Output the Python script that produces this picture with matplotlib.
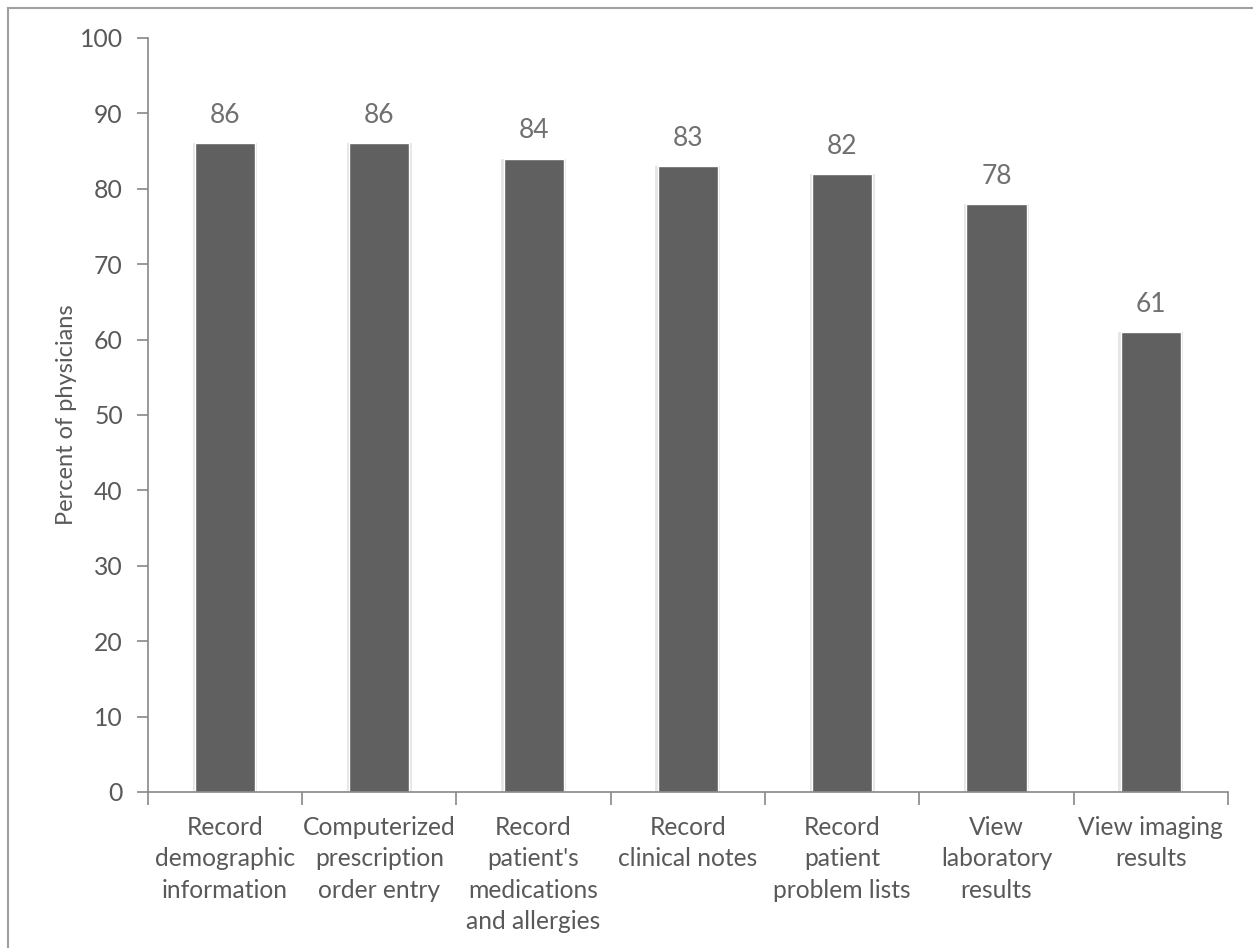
import numpy as np
import matplotlib.pyplot as plt
from matplotlib.lines import Line2D

categories = ["Record\ndemographic\ninformation",
              "Computerized\nprescription\norder entry",
              "Record\npatient's\nmedications\nand allergies",
              "Record\nclinical notes",
              "Record\npatient\nproblem lists",
              "View\nlaboratory\nresults",
              "View imaging\nresults"]
values = [86, 86, 84, 83, 82, 78, 61]

plt.rcParams['font.family'] = ['Lato', 'DejaVu Sans']
txt = '#595959'

fig = plt.figure(figsize=(12.53, 9.48), dpi=100)
ax = fig.add_axes([0.118, 0.1646, 0.862, 0.7954])

x = np.arange(len(values))
# soft shadow behind bars
ax.bar(x, values, width=0.42, color='#e6e6e6', zorder=1)
ax.bar(x, values, width=0.39, color='#606060', edgecolor='white', linewidth=1.0, zorder=2)
for xi, v in zip(x, values):
    ax.text(xi, v + 2.0, str(v), ha='center', va='bottom', fontsize=19, color='#707070')

ax.set_xlim(-0.5, len(values) - 0.5)
ax.set_ylim(0, 100)
ax.set_yticks(np.arange(0, 101, 10))
ax.set_xticks(x)
ax.set_xticklabels(categories, fontsize=17.7, color=txt, linespacing=1.45)
ax.set_xticks(np.arange(-0.5, len(values), 1), minor=True)
ax.tick_params(axis='x', which='major', length=0, pad=17)
ax.tick_params(axis='x', which='minor', length=9, color='#888888', width=1.2, direction='out')
ax.tick_params(axis='y', labelsize=17.8, labelcolor=txt, color='#888888', length=8, width=1.2, pad=10)
ax.set_ylabel('Percent of physicians', fontsize=17, color=txt, labelpad=2)

for s in ['top', 'right']:
    ax.spines[s].set_visible(False)
for s in ['left', 'bottom']:
    ax.spines[s].set_color('#888888')
    ax.spines[s].set_linewidth(1.2)

# figure frame (left and top edges)
fig.add_artist(Line2D([0.0065, 0.0065], [0, 0.9915], transform=fig.transFigure, color='#a0a0a0', lw=1.5))
fig.add_artist(Line2D([0.0065, 1.0], [0.9915, 0.9915], transform=fig.transFigure, color='#a0a0a0', lw=1.5))

fig.savefig('out.png', dpi=100)
